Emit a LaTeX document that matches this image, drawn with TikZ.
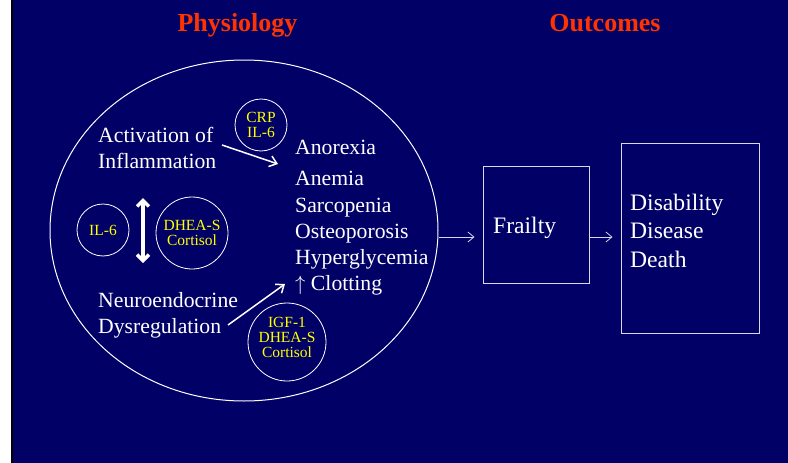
\documentclass[tikz,border=0pt]{standalone}
\usepackage{fontspec}
\setmainfont{Liberation Serif}
\usetikzlibrary{arrows.meta,shapes.geometric}
\definecolor{navy}{HTML}{000066}
\definecolor{titlered}{HTML}{FF3300}
\definecolor{ylw}{HTML}{FFFF00}
\definecolor{linegray}{HTML}{D8D8EC}
\begin{document}
\begin{tikzpicture}[x=1pt,y=-1pt,
  titletext/.style={text=titlered,font=\fontsize{26}{30}\selectfont\bfseries,inner sep=0,anchor=base},
  bodytext/.style={text=white,font=\fontsize{21.7}{26}\selectfont,inner sep=0,anchor=base west},
  outtext/.style={text=white,font=\fontsize{23.6}{28}\selectfont,inner sep=0,anchor=base west},
  bub/.style={draw=white,circle,inner sep=0,line width=0.8pt,align=center,text=ylw,font=\fontsize{15.5}{15}\selectfont},
  outbox/.style={draw=linegray,line width=1pt,rectangle,inner sep=0},
  thickarrow/.style={draw=white,line width=1.5pt,-{Straight Barb[length=7pt,width=11pt]}},
  dblarrow/.style={draw=white,line width=3.5pt,{Straight Barb[length=6pt,width=12pt]}-{Straight Barb[length=6pt,width=12pt]}},
  thinarrow/.style={draw=linegray,line width=0.8pt,-{Straight Barb[length=6pt,width=10pt]},shorten >=8pt}]
\useasboundingbox (0,0) rectangle (788,463);
\fill[white] (0,0) rectangle (11,463);
\fill[black] (11,0) rectangle (13,463);
\fill[navy] (13,0) rectangle (788,463);

% titles
\node[titletext] (tphys) at (237.5,31) {Physiology};
\node[titletext] (tout) at (605,31) {Outcomes};

% big ellipse
\node[draw=white,ellipse,line width=1pt,minimum width=388pt,minimum height=341pt,inner sep=0] (phys) at (244,230.5) {};

% left labels
\node[bodytext] (act1) at (98,142) {Activation of};
\node[bodytext] (act2) at (98,168) {Inflammation};
\node[bodytext] (neu1) at (98,307) {Neuroendocrine};
\node[bodytext] (neu2) at (98,333) {Dysregulation};

% list
\node[bodytext] (l1) at (295,154) {Anorexia};
\node[bodytext] (l2) at (295,185) {Anemia};
\node[bodytext] (l3) at (295,212) {Sarcopenia};
\node[bodytext] (l4) at (295,238) {Osteoporosis};
\node[bodytext] (l5) at (295,264) {Hyperglycemia};
\node[bodytext] (l6) at (295,290) {$\uparrow$ Clotting};

% bubbles
\node[bub,minimum size=52pt] (crp) at (261,125) {CRP\\IL-6};
\node[bub,minimum size=52pt] (il6) at (103,230) {IL-6};
\node[bub,minimum size=72pt] (dhea) at (192,233) {DHEA-S\\Cortisol};
\node[bub,minimum size=78pt] (igf) at (287,342) {};
\node[text=ylw,font=\fontsize{15.5}{15}\selectfont,inner sep=0,align=center] (igftext) at (287,337) {IGF-1\\DHEA-S\\Cortisol};

% arrows inside
\coordinate (a1s) at (222,145);
\coordinate (a1e) at (278,164);
\draw[thickarrow] (a1s) -- (a1e);
\coordinate (a2s) at (228,325);
\coordinate (a2e) at (285,284);
\draw[thickarrow] (a2s) -- (a2e);
\coordinate (dtop) at (143,198);
\coordinate (dbot) at (143,263);
\draw[dblarrow] (dtop) -- (dbot);

% outcome boxes
\node[outbox,minimum width=106pt,minimum height=117pt] (frailty) at (536,224.5) {};
\node[outtext] (ftext) at (493,233) {Frailty};
\node[outbox,minimum width=138pt,minimum height=190pt] (outc) at (690,238) {};
\node[outtext] (o1) at (630,210) {Disability};
\node[outtext] (o2) at (630,238) {Disease};
\node[outtext] (o3) at (630,267) {Death};

\coordinate (lev) at (0,237);
\draw[thinarrow] (phys.east |- lev) -- (frailty.west |- lev);
\draw[thinarrow] (frailty.east |- lev) -- (outc.west |- lev);
\end{tikzpicture}
\end{document}
